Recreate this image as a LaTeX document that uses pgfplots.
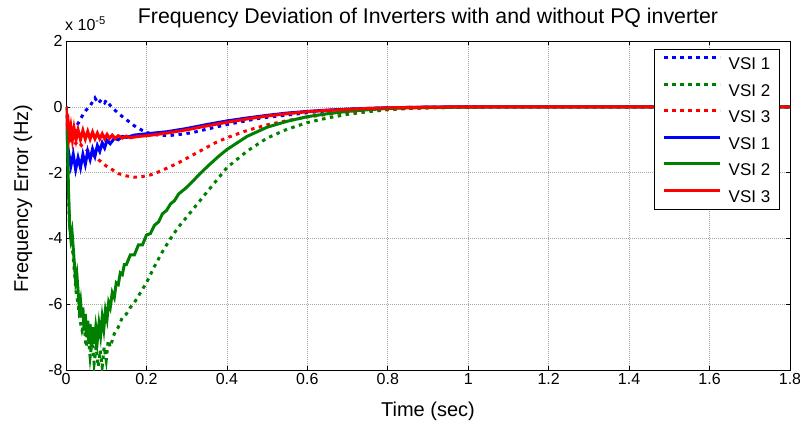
\documentclass[border=0pt]{standalone}
\usepackage{fontspec}
\setmainfont{Liberation Sans}
\usepackage{pgfplots}
\pgfplotsset{compat=1.18}
\definecolor{mblue}{rgb}{0,0,1}
\definecolor{mgreen}{rgb}{0,0.5,0}
\definecolor{mred}{rgb}{1,0,0}
\begin{document}
\begin{tikzpicture}
\begin{axis}[
  name=ax,
  scale only axis,
  width=724bp, height=329bp,
  xmin=0, xmax=1.8, ymin=-8, ymax=2,
  xtick={0,0.2,...,1.8},
  ytick={-8,-6,-4,-2,0,2},
  xticklabels={0,0.2,0.4,0.6,0.8,1,1.2,1.4,1.6,1.8},
  yticklabels={-8,-6,-4,-2,0,2},
  tick align=inside,
  major tick length=4bp,
  axis line style={line width=0.8bp},
  every tick/.style={black, line width=0.6bp},
  grid=major,
  grid style={gray!70, line width=0.6bp, dash pattern=on 1bp off 1bp},
  tick label style={font=\fontsize{16bp}{19bp}\selectfont},
  /pgf/number format/assume math mode=true,
  title={Frequency Deviation of Inverters with and without PQ inverter},
  title style={font=\fontsize{21.3bp}{25bp}\selectfont, at={(axis description cs:0.5,1)}, anchor=base, yshift=12bp, inner sep=0pt},
  xlabel={Time (sec)},
  xlabel style={font=\fontsize{20bp}{24bp}\selectfont, at={(axis description cs:0.5,0)}, anchor=center, yshift=-41bp},
  ylabel={Frequency Error (Hz)},
  ylabel style={font=\fontsize{20bp}{24bp}\selectfont, at={(axis description cs:-0.0594,0.521)}, anchor=center},
  legend style={at={(axis description cs:1,1)}, anchor=north east, xshift=-11bp, yshift=-8bp,
    font=\fontsize{17bp}{20bp}\selectfont, draw=black,
    inner xsep=8.5bp, inner ysep=7bp, row sep=13bp, column sep=7bp,
    nodes={inner sep=0pt, text height=12bp, text depth=0bp}},
  legend image code/.code={\draw[#1] (0bp,6bp) -- (56bp,6bp);},
  legend cell align=left,
]
% dotted series
\addplot[mblue, line width=3bp, dash pattern=on 3.5bp off 4.5bp] coordinates {
(0,0) (0.005,-0.6) (0.01,-1.1) (0.018,-0.85) (0.027,-0.57) (0.035,-0.4) (0.042,-0.24) (0.05,-0.1) (0.06,0.03) (0.066,0.15) (0.072,0.27) (0.08,0.1) (0.088,0.22) (0.096,0.12) (0.1,0.2) (0.11,0.04) (0.12,-0.08) (0.13,-0.2) (0.15,-0.39) (0.17,-0.58) (0.19,-0.72) (0.21,-0.82) (0.234,-0.87) (0.26,-0.87) (0.29,-0.83) (0.316,-0.78) (0.35,-0.68) (0.4,-0.54) (0.45,-0.42) (0.48,-0.35) (0.52,-0.29) (0.565,-0.23) (0.6,-0.18) (0.65,-0.12) (0.7,-0.08) (0.75,-0.05) (0.8,-0.03) (0.9,-0.012) (1.0,-0.004) (1.2,0) (1.8,0)};
\addlegendentry{VSI 1}
\addplot[mgreen, line width=3bp, dash pattern=on 3.5bp off 4.5bp] coordinates {
(0,0) (0.003,-0.5) (0.006,-2.5) (0.009,-3.6) (0.012,-4.0) (0.016,-4.3) (0.02,-4.9) (0.025,-5.6) (0.03,-6.0) (0.035,-6.5) (0.04,-6.8) (0.045,-6.6) (0.05,-7.3) (0.055,-6.9) (0.06,-7.6) (0.065,-7.1) (0.07,-7.8) (0.075,-7.3) (0.08,-7.9) (0.085,-7.4) (0.09,-7.9) (0.095,-7.3) (0.1,-7.7) (0.105,-7.1) (0.11,-7.3) (0.12,-6.9) (0.13,-6.7) (0.14,-6.4) (0.15,-6.3) (0.16,-6.1) (0.17,-5.95) (0.18,-5.75) (0.19,-5.55) (0.2,-5.35) (0.22,-4.85) (0.24,-4.4) (0.26,-4.0) (0.28,-3.65) (0.3,-3.35) (0.32,-3.05) (0.34,-2.75) (0.36,-2.45) (0.38,-2.15) (0.4,-1.85) (0.45,-1.35) (0.5,-0.95) (0.55,-0.68) (0.6,-0.48) (0.65,-0.34) (0.7,-0.23) (0.75,-0.15) (0.8,-0.09) (0.85,-0.05) (0.9,-0.03) (1.0,-0.01) (1.1,0) (1.8,0)};
\addlegendentry{VSI 2}
\addplot[mred, line width=3bp, dash pattern=on 3.5bp off 4.5bp] coordinates {
(0,0) (0.005,-0.5) (0.01,-1.0) (0.02,-1.15) (0.03,-1.05) (0.04,-1.2) (0.05,-1.3) (0.06,-1.4) (0.07,-1.5) (0.08,-1.6) (0.09,-1.7) (0.1,-1.8) (0.11,-1.87) (0.12,-1.95) (0.13,-2.03) (0.15,-2.1) (0.17,-2.14) (0.19,-2.12) (0.21,-2.07) (0.23,-1.98) (0.25,-1.87) (0.28,-1.7) (0.31,-1.5) (0.34,-1.3) (0.37,-1.1) (0.4,-0.94) (0.45,-0.72) (0.5,-0.55) (0.55,-0.42) (0.6,-0.31) (0.65,-0.23) (0.7,-0.16) (0.75,-0.11) (0.8,-0.07) (0.9,-0.03) (1.0,-0.01) (1.1,0) (1.8,0)};
\addlegendentry{VSI 3}
% solid series
\addplot[mblue, line width=3bp] coordinates {
(0,0) (0.004,-1.2) (0.008,-1.5) (0.012,-1.8) (0.018,-1.45) (0.024,-1.9) (0.03,-1.55) (0.036,-1.85) (0.042,-1.45) (0.048,-1.75) (0.054,-1.35) (0.06,-1.6) (0.066,-1.28) (0.072,-1.5) (0.078,-1.18) (0.084,-1.35) (0.09,-1.1) (0.096,-1.25) (0.102,-1.02) (0.11,-1.12) (0.12,-0.96) (0.13,-1.0) (0.14,-0.9) (0.15,-0.93) (0.17,-0.86) (0.2,-0.82) (0.25,-0.76) (0.3,-0.66) (0.35,-0.54) (0.4,-0.43) (0.45,-0.34) (0.5,-0.26) (0.55,-0.19) (0.6,-0.14) (0.65,-0.1) (0.7,-0.07) (0.75,-0.05) (0.8,-0.03) (0.9,-0.01) (1.0,0) (1.8,0)};
\addlegendentry{VSI 1}
\addplot[mgreen, line width=3bp] coordinates {
(0,0) (0.003,-0.5) (0.006,-2.5) (0.009,-3.6) (0.012,-4.0) (0.015,-3.8) (0.018,-4.3) (0.021,-4.8) (0.024,-5.3) (0.027,-5.1) (0.03,-5.6) (0.033,-6.1) (0.036,-5.9) (0.039,-6.4) (0.042,-6.1) (0.045,-6.8) (0.048,-6.3) (0.051,-7.0) (0.054,-6.5) (0.057,-7.2) (0.06,-6.6) (0.063,-7.3) (0.066,-6.7) (0.07,-7.2) (0.074,-6.7) (0.078,-7.1) (0.082,-6.6) (0.086,-6.95) (0.09,-6.4) (0.094,-6.75) (0.098,-6.2) (0.102,-6.45) (0.106,-5.95) (0.11,-6.1) (0.115,-5.65) (0.12,-5.8) (0.125,-5.35) (0.13,-5.4) (0.135,-5.05) (0.14,-5.1) (0.145,-4.8) (0.15,-4.8) (0.16,-4.5) (0.17,-4.5) (0.18,-4.2) (0.19,-4.2) (0.2,-3.9) (0.21,-3.85) (0.22,-3.6) (0.23,-3.5) (0.24,-3.25) (0.25,-3.15) (0.26,-2.95) (0.27,-2.85) (0.28,-2.65) (0.3,-2.45) (0.32,-2.2) (0.34,-1.95) (0.36,-1.72) (0.38,-1.5) (0.4,-1.3) (0.45,-0.9) (0.5,-0.62) (0.55,-0.44) (0.6,-0.3) (0.65,-0.21) (0.7,-0.14) (0.75,-0.09) (0.8,-0.05) (0.9,-0.02) (1.0,-0.01) (1.1,0) (1.8,0)};
\addlegendentry{VSI 2}
\addplot[mred, line width=3bp] coordinates {
(0,0) (0.002,-0.5) (0.005,-0.4) (0.008,-0.9) (0.012,-0.6) (0.016,-1.0) (0.02,-0.65) (0.025,-1.0) (0.03,-0.7) (0.036,-1.0) (0.042,-0.72) (0.048,-0.98) (0.054,-0.75) (0.06,-0.98) (0.066,-0.77) (0.072,-0.97) (0.078,-0.8) (0.084,-0.97) (0.09,-0.82) (0.096,-0.97) (0.102,-0.84) (0.108,-0.96) (0.115,-0.86) (0.122,-0.96) (0.13,-0.88) (0.14,-0.95) (0.15,-0.89) (0.16,-0.94) (0.18,-0.9) (0.2,-0.88) (0.25,-0.8) (0.3,-0.7) (0.35,-0.58) (0.4,-0.47) (0.45,-0.37) (0.5,-0.28) (0.55,-0.21) (0.6,-0.15) (0.65,-0.11) (0.7,-0.08) (0.75,-0.05) (0.8,-0.03) (0.9,-0.01) (1.0,0) (1.8,0)};
\addlegendentry{VSI 3}
\end{axis}
\node[anchor=base west, inner sep=0pt, font=\fontsize{16bp}{19bp}\selectfont] at ([xshift=-1bp, yshift=10bp]ax.north west) {x 10\textsuperscript{-5}};
\pgfresetboundingbox
\path ([xshift=-66bp,yshift=-55bp]ax.south west) rectangle ([xshift=10bp,yshift=41bp]ax.north east);
\end{tikzpicture}
\end{document}
